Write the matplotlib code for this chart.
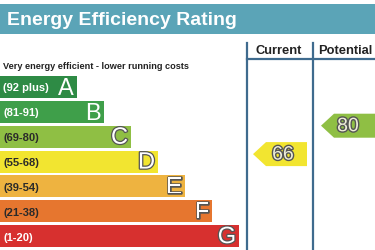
import matplotlib

matplotlib.use("Agg")
import matplotlib.pyplot as plt
import matplotlib.patheffects as pe
from matplotlib.patches import Polygon, Rectangle

# data
letters = ["A", "B", "C", "D", "E", "F", "G"]
range_labels = ["(92 plus)", "(81-91)", "(69-80)", "(55-68)", "(39-54)", "(21-38)", "(1-20)"]
band_low = [92, 81, 69, 55, 39, 21, 1]
band_high = [100, 91, 80, 68, 54, 38, 20]
band_colors = ["#2e8b45", "#3f9f4a", "#8fbf44", "#f2e530", "#eeb340", "#e6762f", "#d7302f"]
label_colors = ["white", "white", "#2a2a2a", "#2a2a2a", "#2a2a2a", "#2a2a2a", "white"]
current = 66
potential = 80

plt.rcParams["font.family"] = ["Liberation Sans", "DejaVu Sans"]

W, H = 375, 251
fig = plt.figure(figsize=(W / 100, H / 100), dpi=100)
ax = fig.add_axes([0, 0, 1, 1])
ax.set_xlim(0, W)
ax.set_ylim(H, 0)
ax.axis("off")

# header band
ax.add_patch(Rectangle((0, 5), W, 30, color="#5ba4b7", lw=0))
ax.text(7, 20.5, "Energy Efficiency Rating", color="white", fontsize=14,
        fontweight="bold", va="center", ha="left")

line_col = "#3f6b8e"
ax.plot([247, 247], [44, H], color=line_col, lw=1.6)
ax.plot([313, 313], [44, H], color=line_col, lw=1.6)
ax.plot([247, W], [60, 60], color=line_col, lw=1.6)
ax.text(279, 51.5, "Current", fontsize=9.3, fontweight="bold", ha="center", va="center", color="#222")
ax.text(318, 51.5, "Potential", fontsize=9.3, fontweight="bold", ha="left", va="center", color="#222")

ax.text(3, 67, "Very energy efficient - lower running costs", fontsize=6.6,
        fontweight="bold", ha="left", va="center", color="#222")

# bands
pitch = 24.85
bar_h = 22
centers = [88 + i * pitch for i in range(len(letters))]
widths = [77 + 27 * i for i in range(len(letters))]
ax.barh(centers, widths, height=bar_h, left=0, color=band_colors, lw=0)

outline = [pe.withStroke(linewidth=1.8, foreground="#555")]
for i, (lt, rl) in enumerate(zip(letters, range_labels)):
    ax.text(3, centers[i] + 0.5, rl, fontsize=8, fontweight="bold",
            color=label_colors[i], ha="left", va="center")
    ax.text(widths[i] - 3, centers[i] + 1, lt, fontsize=17, color="white",
            ha="right", va="center",
            path_effects=outline if i >= 2 else None)


def value_y(v):
    for i, (lo, hi) in enumerate(zip(band_low, band_high)):
        if lo <= v <= hi:
            top = centers[i] - bar_h / 2
            return top + (hi - v) / (hi - lo + 1) * pitch
    return centers[-1]


def band_color(v):
    for i, (lo, hi) in enumerate(zip(band_low, band_high)):
        if lo <= v <= hi:
            return band_colors[i]
    return band_colors[-1]


def arrow(x0, x1, v, text_x):
    y = value_y(v)
    hh = 12
    pts = [(x0, y), (x0 + 13, y - hh), (x1, y - hh), (x1, y + hh), (x0 + 13, y + hh)]
    ax.add_patch(Polygon(pts, closed=True, color=band_color(v), lw=0))
    ax.text(text_x, y + 1, str(v), fontsize=14, color="#eeeed8", ha="center", va="center",
            path_effects=[pe.withStroke(linewidth=2, foreground="#555")])


arrow(253, 307, current, 283)
arrow(321, 385, potential, 348)

fig.savefig("out.png", dpi=100)
